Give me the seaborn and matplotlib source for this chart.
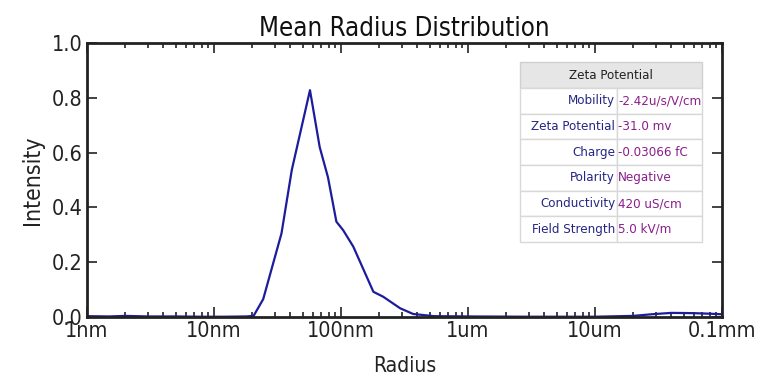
import numpy as np
import pandas as pd
import matplotlib
matplotlib.use("Agg")
import matplotlib.pyplot as plt
import seaborn as sns
from matplotlib.patches import Rectangle

# radius in nm and intensity
radius_nm = [1, 1.5, 2, 3, 5, 8, 12, 18, 20.5, 24.4, 34, 41, 57, 68, 79, 92, 104,
             125, 180, 215, 292, 370, 540, 1000, 3000, 10000, 20000, 28000,
             40000, 60000, 80000, 100000]
intensity = [0.003, 0.002, 0.004, 0.002, 0.002, 0.001, 0.001, 0.002, 0.004, 0.065,
             0.305, 0.537, 0.828, 0.62, 0.51, 0.348, 0.317, 0.257, 0.092, 0.074,
             0.032, 0.011, 0.003, 0.002, 0.001, 0.001, 0.004, 0.010, 0.015, 0.014,
             0.012, 0.010]

xtick_pos = [1, 10, 100, 1000, 10000, 100000]
xtick_labels = ["1nm", "10nm", "100nm", "1um", "10um", "0.1mm"]
ytick_pos = [0.0, 0.2, 0.4, 0.6, 0.8, 1.0]

table_title = "Zeta Potential"
table_labels = ["Mobility", "Zeta Potential", "Charge", "Polarity",
                "Conductivity", "Field Strength"]
table_values = ["-2.42u/s/V/cm", "-31.0 mv", "-0.03066 fC", "Negative",
                "420 uS/cm", "5.0 kV/m"]

df = pd.DataFrame({"Radius": radius_nm, "Intensity": intensity})

sns.set_style("ticks")
plt.rcParams["font.family"] = ["DejaVu Sans"]
plt.rcParams["font.stretch"] = "condensed"

fig = plt.figure(figsize=(7.68, 3.88), dpi=100)
ax = fig.add_axes([0.1133, 0.183, 0.8267, 0.706])

sns.lineplot(data=df, x="Radius", y="Intensity", ax=ax, color="#1c1c9c", lw=1.6)
ax.set_xscale("log")
ax.set_xlim(1, 100000)
ax.set_ylim(0, 1.0)
ax.set_xticks(xtick_pos)
ax.set_xticklabels(xtick_labels)
ax.set_yticks(ytick_pos)
ax.set_yticklabels([f"{v:.1f}" for v in ytick_pos])
ax.tick_params(which="both", direction="in", top=True, right=True,
               labelsize=15.5, colors="#222222", width=1.2)
ax.tick_params(which="major", length=7, pad=3)
ax.tick_params(which="minor", length=3.5)
for s in ax.spines.values():
    s.set_linewidth(2)
    s.set_color("#222222")

ax.set_title("Mean Radius Distribution", fontsize=18.5, pad=5, color="#111111")
ax.set_xlabel("Radius", fontsize=15, labelpad=11, color="#222222")
ax.set_ylabel("Intensity", fontsize=16.5, labelpad=6, color="#222222")

# info table in axes fraction coordinates
tx0, tx1, tdiv = 0.682, 0.9685, 0.8346
ttop, thead = 0.9307, 0.8358
rowh = (thead - 0.2734) / len(table_labels)
tf = ["DejaVu Sans"]
ax.add_patch(Rectangle((tx0, thead), tx1 - tx0, ttop - thead, transform=ax.transAxes,
                       facecolor="#e6e6e6", edgecolor="#d0d0d0", lw=1, zorder=3))
ax.text((tx0 + tx1) / 2, (ttop + thead) / 2, table_title, transform=ax.transAxes,
        ha="center", va="center", fontsize=9.5, color="#222222", family=tf, zorder=4)
for i, (lab, val) in enumerate(zip(table_labels, table_values)):
    y1 = thead - i * rowh
    y0 = y1 - rowh
    ax.add_patch(Rectangle((tx0, y0), tdiv - tx0, rowh, transform=ax.transAxes,
                           facecolor="white", edgecolor="#d8d8d8", lw=1, zorder=3))
    ax.add_patch(Rectangle((tdiv, y0), tx1 - tdiv, rowh, transform=ax.transAxes,
                           facecolor="white", edgecolor="#d8d8d8", lw=1, zorder=3))
    ax.text(tdiv - 0.003, (y0 + y1) / 2, lab, transform=ax.transAxes, ha="right",
            va="center", fontsize=9.5, color="#262686", family=tf, zorder=4)
    ax.text(tdiv + 0.002, (y0 + y1) / 2, val, transform=ax.transAxes, ha="left",
            va="center", fontsize=9.5, color="#8a1f8a", family=tf, zorder=4)

fig.savefig("out.png", dpi=100)
